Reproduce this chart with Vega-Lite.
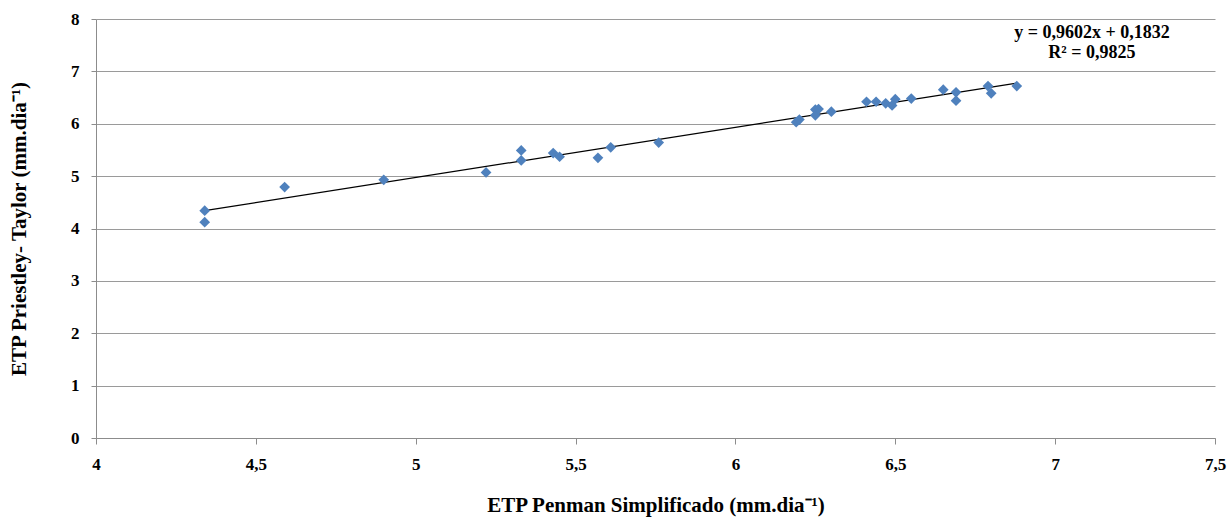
{
  "$schema": "https://vega.github.io/schema/vega-lite/v6.json",
  "width": 1119,
  "height": 419,
  "autosize": {"type": "none"},
  "padding": {"left": 96, "top": 19, "right": 16, "bottom": 81},
  "background": "white",
  "config": {
    "view": {"stroke": null},
    "font": "Liberation Serif",
    "axis": {"labelFont": "Liberation Serif", "titleFont": "Liberation Serif", "labelFontWeight": "bold", "titleFontWeight": "bold", "labelColor": "black", "titleColor": "black", "labelFontSize": 17, "titleFontSize": 21, "domainColor": "#8c8c8c", "tickColor": "#8c8c8c", "gridColor": "#9a9a9a", "gridWidth": 1}
  },
  "datasets": {
    "pts": [
      {"penman": 4.34, "pt": 4.34},
      {"penman": 4.34, "pt": 4.12},
      {"penman": 4.59, "pt": 4.79},
      {"penman": 4.90, "pt": 4.93},
      {"penman": 5.22, "pt": 5.07},
      {"penman": 5.33, "pt": 5.49},
      {"penman": 5.33, "pt": 5.30},
      {"penman": 5.43, "pt": 5.44},
      {"penman": 5.45, "pt": 5.37},
      {"penman": 5.57, "pt": 5.35},
      {"penman": 5.61, "pt": 5.55},
      {"penman": 5.76, "pt": 5.64},
      {"penman": 6.19, "pt": 6.03},
      {"penman": 6.20, "pt": 6.08},
      {"penman": 6.25, "pt": 6.27},
      {"penman": 6.25, "pt": 6.16},
      {"penman": 6.26, "pt": 6.28},
      {"penman": 6.30, "pt": 6.23},
      {"penman": 6.41, "pt": 6.42},
      {"penman": 6.44, "pt": 6.42},
      {"penman": 6.47, "pt": 6.39},
      {"penman": 6.49, "pt": 6.35},
      {"penman": 6.50, "pt": 6.47},
      {"penman": 6.55, "pt": 6.48},
      {"penman": 6.65, "pt": 6.65},
      {"penman": 6.69, "pt": 6.60},
      {"penman": 6.69, "pt": 6.44},
      {"penman": 6.79, "pt": 6.72},
      {"penman": 6.80, "pt": 6.58},
      {"penman": 6.88, "pt": 6.72}
    ],
    "notes": [
      {"penman": 7.115, "pt": 7.73, "label": "y = 0,9602x + 0,1832"},
      {"penman": 7.115, "pt": 7.35, "label": "R² = 0,9825"}
    ]
  },
  "encoding": {
    "x": {"field": "penman", "type": "quantitative", "scale": {"domain": [4, 7.5], "nice": false, "zero": false},
      "axis": {"title": "ETP Penman Simplificado (mm.dia⁻¹)", "values": [4, 4.5, 5, 5.5, 6, 6.5, 7, 7.5], "grid": false, "tickSize": 6, "labelPadding": 12, "titlePadding": 22, "labelExpr": "replace(format(datum.value, '~g'), '.', ',')", "labelFlush": false, "labelOverlap": false}},
    "y": {"field": "pt", "type": "quantitative", "scale": {"domain": [0, 8], "nice": false},
      "axis": {"title": "ETP Priestley- Taylor (mm.dia⁻¹)", "values": [0, 1, 2, 3, 4, 5, 6, 7, 8], "grid": true, "tickSize": 5, "labelPadding": 12, "titlePadding": 41, "labelFlush": false}}
  },
  "layer": [
    {
      "data": {"name": "pts"},
      "transform": [{"regression": "pt", "on": "penman"}],
      "mark": {"type": "line", "color": "black", "strokeWidth": 1.2},
      "encoding": {}
    },
    {
      "data": {"name": "pts"},
      "mark": {"type": "point", "shape": "diamond", "filled": true, "color": "#4F81BD", "opacity": 1, "size": 115}
    },
    {
      "data": {"name": "notes"},
      "mark": {"type": "text", "align": "center", "baseline": "middle", "font": "Liberation Serif", "fontWeight": "bold", "fontSize": 18, "color": "black"},
      "encoding": {"text": {"field": "label"}}
    }
  ]
}
